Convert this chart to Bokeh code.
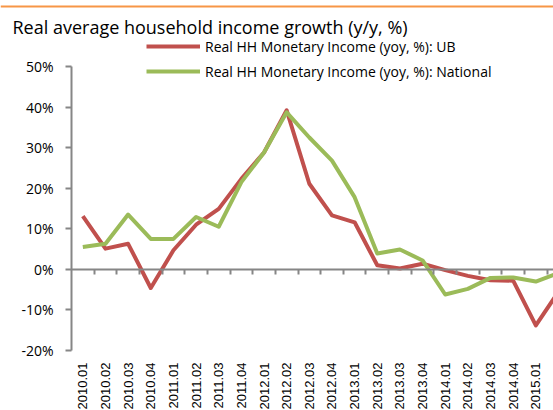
import math
from bokeh.plotting import figure
from bokeh.models import (Range1d, LinearAxis, FixedTicker, PrintfTickFormatter,
                          Legend, LegendItem, Label, Span)
from bokeh.embed import file_html
from bokeh.resources import INLINE

title_text = "Real average household income growth (y/y, %)"
periods = ["2010.01", "2010.02", "2010.03", "2010.04",
           "2011.01", "2011.02", "2011.03", "2011.04",
           "2012.01", "2012.02", "2012.03", "2012.04",
           "2013.01", "2013.02", "2013.03", "2013.04",
           "2014.01", "2014.02", "2014.03", "2014.04",
           "2015.01", "2015.02"]
ub_name = "Real HH Monetary Income (yoy, %): UB"
ub = [13.1, 5.1, 6.3, -4.6, 4.7, 11.0, 14.9, 22.3, 28.8, 39.2, 21.1, 13.3,
      11.6, 1.0, 0.2, 1.4, -0.2, -1.6, -2.7, -2.8, -13.8, -5.5]
national_name = "Real HH Monetary Income (yoy, %): National"
national = [5.5, 6.3, 13.5, 7.5, 7.5, 12.9, 10.5, 21.5, 28.8, 38.7, 32.5, 26.8,
            17.8, 3.9, 4.9, 2.2, -6.2, -4.8, -2.1, -2.0, -3.0, -0.9]
y_ticks = [-20, -10, 0, 10, 20, 30, 40, 50]

x = list(range(len(periods)))
AXIS_GRAY = "#868686"

# canvas geometry (pixels)
W, H = 553, 410
AXIS_X, TOP_Y, BOT_Y = 71, 66, 350
STEP = 22.65
YPX = (BOT_Y - TOP_Y) / (y_ticks[-1] - y_ticks[0])

x0 = -0.5 - AXIS_X / STEP
x1 = -0.5 + (W - AXIS_X) / STEP
y1 = y_ticks[-1] + TOP_Y / YPX
y0 = y_ticks[-1] - (H - TOP_Y) / YPX

p = figure(width=W, height=H, output_backend="svg", toolbar_location=None,
           x_axis_location=None, y_axis_location=None,
           x_range=Range1d(x0, x1), y_range=Range1d(y0, y1),
           min_border=0, min_border_left=0, min_border_right=0,
           min_border_top=0, min_border_bottom=0)
p.outline_line_color = None
p.background_fill_color = "white"
p.grid.visible = False
p.xgrid.visible = False
p.ygrid.visible = False

# decorative orange rule at the very top of the cropped slide
p.add_layout(Span(location=y1 - 6 / YPX, dimension="width",
                  line_color="#F79646", line_width=2))

# y axis
yax = LinearAxis(fixed_location=-0.5, bounds=(y_ticks[0], y_ticks[-1]),
                 ticker=FixedTicker(ticks=y_ticks),
                 formatter=PrintfTickFormatter(format="%d%%"),
                 major_tick_out=6, major_tick_in=0,
                 minor_tick_out=0, minor_tick_in=0,
                 axis_line_color=AXIS_GRAY, axis_line_width=2,
                 major_tick_line_color=AXIS_GRAY, major_tick_line_width=2,
                 major_label_standoff=12,
                 major_label_text_font="Open Sans",
                 major_label_text_font_size="14px",
                 major_label_text_color="#000000")
p.add_layout(yax, "left")

# zero-line axis with ticks between categories
zero_axis = LinearAxis(fixed_location=0, bounds=(-0.5, len(periods) - 0.5),
                       ticker=FixedTicker(ticks=[i + 0.5 for i in x]),
                       major_tick_out=5, major_tick_in=0,
                       minor_tick_out=0, minor_tick_in=0,
                       axis_line_color=AXIS_GRAY, axis_line_width=2,
                       major_tick_line_color=AXIS_GRAY, major_tick_line_width=2,
                       major_label_text_color=None)
p.add_layout(zero_axis, "below")

# category label axis at the bottom
label_axis = LinearAxis(fixed_location=y_ticks[0],
                        ticker=FixedTicker(ticks=x),
                        major_label_overrides={i: s for i, s in enumerate(periods)},
                        axis_line_color=None, major_tick_line_color=None,
                        minor_tick_line_color=None,
                        major_tick_out=0, major_tick_in=0,
                        minor_tick_out=0, minor_tick_in=0,
                        major_label_orientation=math.pi / 2,
                        major_label_standoff=12,
                        major_label_text_font="Liberation Sans",
                        major_label_text_font_size="13px",
                        major_label_text_color="#000000")
p.add_layout(label_axis, "below")

r_ub = p.line(x, ub, line_color="#C0504D", line_width=4, line_join="round")
r_nat = p.line(x, national, line_color="#9BBB59", line_width=4, line_join="round")

legend = Legend(items=[LegendItem(label=ub_name, renderers=[r_ub]),
                       LegendItem(label=national_name, renderers=[r_nat])],
                location=(146, H - 81), orientation="vertical",
                glyph_width=54, glyph_height=20, label_height=20,
                spacing=5, padding=0, margin=0,
                border_line_color=None, background_fill_alpha=0,
                label_standoff=5, label_text_font="Open Sans",
                label_text_font_size="14px", label_text_color="#000000")
p.add_layout(legend)

p.add_layout(Label(x=x0 + 12 / STEP, y=y_ticks[-1] + (TOP_Y - 26) / YPX,
                   text=title_text, text_font="Open Sans",
                   text_font_size="18px", text_baseline="alphabetic",
                   text_color="#000000"))

open("out.html", "w").write(file_html(p, INLINE))
